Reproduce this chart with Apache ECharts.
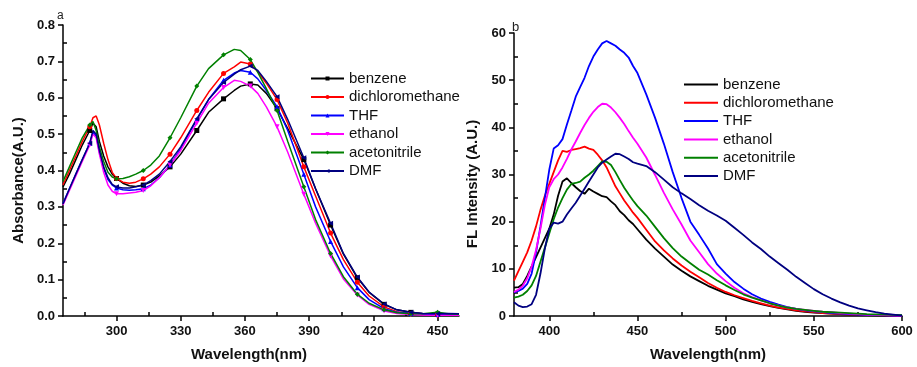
<!DOCTYPE html>
<html>
<head>
<meta charset="utf-8">
<script src="https://cdn.jsdelivr.net/npm/echarts@6/dist/echarts.min.js"></script>
<style>html,body{margin:0;padding:0;background:#fff}#c{width:917px;height:367px}</style>
</head>
<body>
<div id="c"></div>
<script>
// ---------- Panel a: absorbance ----------
const absWl = [275,278,281,284,287.5,289,290.5,292,294,296,298,300,303,306,309,312.5,316,320,325,330,337.5,343,350,355,358,362.5,366,370,375,380,387.5,393,400,406,412.5,418,425,431,437.5,443,450,455,460];
const absMarkerWl = [287.5,300,312.5,325,337.5,350,362.5,375,387.5,400,412.5,425,437.5,450];
const absBenzene = [0.355,0.39,0.43,0.47,0.51,0.53,0.52,0.48,0.44,0.41,0.39,0.378,0.365,0.358,0.356,0.36,0.368,0.385,0.41,0.445,0.51,0.56,0.597,0.62,0.632,0.638,0.635,0.612,0.57,0.515,0.43,0.35,0.25,0.17,0.105,0.065,0.032,0.017,0.01,0.007,0.005,0.004,0.004];
const absDCM = [0.36,0.40,0.44,0.48,0.52,0.545,0.55,0.525,0.475,0.43,0.395,0.378,0.368,0.365,0.368,0.377,0.39,0.41,0.445,0.49,0.565,0.615,0.667,0.685,0.698,0.693,0.672,0.64,0.595,0.53,0.41,0.33,0.228,0.155,0.093,0.055,0.025,0.012,0.006,0.004,0.003,0.002,0.002];
const absTHF = [0.31,0.35,0.39,0.43,0.475,0.505,0.495,0.45,0.405,0.375,0.36,0.352,0.347,0.346,0.347,0.35,0.36,0.38,0.415,0.46,0.54,0.595,0.648,0.668,0.675,0.67,0.652,0.62,0.575,0.51,0.39,0.30,0.205,0.135,0.078,0.045,0.02,0.01,0.007,0.005,0.004,0.003,0.003];
const absEthanol = [0.305,0.345,0.385,0.425,0.47,0.50,0.49,0.445,0.395,0.36,0.343,0.336,0.336,0.338,0.34,0.345,0.358,0.38,0.415,0.455,0.53,0.585,0.628,0.648,0.645,0.632,0.612,0.575,0.52,0.45,0.335,0.255,0.165,0.102,0.058,0.032,0.014,0.007,0.004,0.003,0.002,0.002,0.002];
const absMeCN = [0.37,0.41,0.45,0.49,0.525,0.535,0.51,0.465,0.425,0.395,0.382,0.377,0.378,0.383,0.39,0.40,0.415,0.44,0.49,0.545,0.632,0.68,0.718,0.733,0.73,0.705,0.67,0.625,0.565,0.48,0.355,0.265,0.172,0.108,0.06,0.035,0.017,0.009,0.006,0.006,0.01,0.006,0.005];
const absDMF = [0.308,0.35,0.39,0.43,0.475,0.51,0.50,0.455,0.41,0.38,0.362,0.355,0.352,0.352,0.355,0.36,0.372,0.39,0.425,0.465,0.542,0.595,0.642,0.665,0.677,0.687,0.675,0.645,0.603,0.54,0.435,0.35,0.255,0.172,0.107,0.066,0.033,0.017,0.01,0.007,0.006,0.007,0.006];
const absXTicks = [300,330,360,390,420,450];
const absXMinor = [285,315,345,375,405,435];
const absYMinor = [0.05,0.15,0.25,0.35,0.45,0.55,0.65,0.75];

// ---------- Panel b: fluorescence ----------
const flWl = [380,382.5,385,387.5,390,392.5,395,397.5,400,402.5,405,407.5,410,412.5,415,417.5,420,422.5,425,427.5,430,432.5,435,437.5,440,442.5,445,447.5,450,455,460,465,470,475,480,485,490,495,500,505,510,515,520,525,530,535,540,545,550,555,560,565,570,575,580,585,590,595,600];
const flBenzene = [6.0,6.1,6.8,8.5,10.5,12.5,14.5,16.5,18.5,21.5,25.5,28.5,29.2,28.2,27.3,26.5,25.9,27.0,26.4,25.9,25.4,25.2,24.3,23.5,22.2,21.4,20.3,19.5,18.4,16.2,14.3,12.6,10.9,9.6,8.4,7.4,6.4,5.6,4.8,4.2,3.5,3.0,2.5,2.1,1.7,1.4,1.1,0.9,0.7,0.6,0.5,0.4,0.3,0.25,0.2,0.15,0.1,0.1,0.1];
const flDCM = [7.5,9.5,11.5,13.5,16.0,19.0,22.5,25.5,28.0,30.5,33.0,35.0,34.8,35.2,35.4,35.6,35.9,35.5,35.2,34.2,33.0,31.5,29.5,27.5,26.0,24.5,23.2,21.9,20.8,18.3,15.8,13.9,12.2,10.7,9.4,8.2,7.0,6.0,5.1,4.4,3.8,3.2,2.7,2.2,1.8,1.5,1.2,1.0,0.8,0.6,0.5,0.4,0.35,0.3,0.25,0.2,0.15,0.1,0.1];
const flTHF = [5.0,5.3,5.8,6.8,9.0,13.5,19.0,25.0,31.0,35.5,36.2,37.5,40.6,43.5,46.5,48.5,50.5,53.0,55.0,56.5,57.8,58.3,57.8,57.3,56.5,55.8,54.8,53.0,51.5,47.0,42.0,36.5,30.5,25.0,20.0,17.2,14.3,11.0,9.0,7.2,5.8,4.6,3.7,3.0,2.4,1.9,1.5,1.2,1.0,0.8,0.6,0.5,0.4,0.3,0.25,0.2,0.15,0.1,0.1];
const flEthanol = [5.1,5.6,6.4,8.0,10.5,14.0,18.5,23.5,27.3,29.0,30.0,31.5,33.3,35.3,37.0,38.8,40.5,42.0,43.3,44.3,45.0,44.9,44.2,43.2,42.0,40.7,39.2,37.8,36.5,33.6,29.9,26.1,22.6,19.4,16.0,13.5,11.0,9.0,7.4,6.0,4.8,4.0,3.3,2.7,2.2,1.8,1.5,1.3,1.1,0.9,0.8,0.6,0.5,0.4,0.3,0.25,0.2,0.15,0.1];
const flMeCN = [3.9,4.1,4.5,5.3,6.5,8.5,11.5,14.5,17.5,20.5,23.0,25.0,26.8,28.0,28.2,28.5,29.3,30.0,30.8,31.8,32.8,32.7,32.0,30.5,28.8,27.2,25.8,24.5,23.3,21.3,18.9,16.5,14.4,12.6,11.2,9.8,8.8,7.6,6.5,5.5,4.6,3.9,3.3,2.7,2.2,1.8,1.5,1.3,1.1,0.9,0.8,0.7,0.6,0.5,0.4,0.35,0.3,0.25,0.2];
const flDMF = [2.9,2.2,1.9,2.0,2.5,4.5,9.0,14.3,18.5,19.8,19.6,20.0,21.5,22.8,24.0,25.5,27.0,28.5,30.0,31.5,32.5,33.2,33.8,34.4,34.3,33.8,33.3,32.6,32.3,31.8,30.5,28.9,27.3,26.0,24.8,23.5,22.3,21.3,20.2,18.7,17.2,15.6,14.2,12.6,11.2,9.8,8.3,7.0,5.7,4.6,3.7,2.9,2.2,1.6,1.2,0.8,0.5,0.3,0.1];
const flXTicks = [400,450,500,550,600];
const flXMinor = [425,475,525,575];
const flYMinor = [5,15,25,35,45,55];

const solvents = ['benzene','dichloromethane','THF','ethanol','acetonitrile','DMF'];
const colors = ['#000000','#ff0000','#0000ff','#ff00ff','#008000','#000080'];
const symbols = ['rect','circle','triangle','triangle','diamond','triangle'];
const symbolRot = [0,0,0,180,0,90];
const absSets = [absBenzene,absDCM,absTHF,absEthanol,absMeCN,absDMF];
const flSets = [flBenzene,flDCM,flTHF,flEthanol,flMeCN,flDMF];

const FONT = 'Liberation Sans, Arial, sans-serif';
const axisLine = {show:true, onZero:false, lineStyle:{color:'#000', width:1.5}};
const labelStyle = {fontFamily:FONT, fontWeight:'bold', fontSize:13, color:'#111'};
const nameStyle = {fontFamily:FONT, fontWeight:'bold', fontSize:15, color:'#111'};

function minorAxis(gridIndex, min, max, values, isY){
  return {type:'value', gridIndex, min, max, position: isY?'left':'bottom',
    axisLine:{show:false}, splitLine:{show:false}, axisLabel:{show:false},
    axisTick:{show:true, inside:true, length:4, customValues:values, lineStyle:{color:'#000', width:1.5}}};
}

const markerSet = new Set(absMarkerWl);
const series = [];
solvents.forEach((s,i)=>{
  series.push({
    type:'line', name:s, xAxisIndex:0, yAxisIndex:0,
    data: absWl.map((x,j)=>[x, absSets[i][j]]),
    symbol: symbols[i], symbolRotate: symbolRot[i],
    symbolSize: function(v){ return (v && markerSet.has(v[0])) ? 5 : 0; },
    showSymbol:true, showAllSymbol:true,
    lineStyle:{color:colors[i], width:1.5}, itemStyle:{color:colors[i]},
    emphasis:{disabled:true}, silent:true
  });
});
solvents.forEach((s,i)=>{
  series.push({
    type:'line', name:'fl-'+s, xAxisIndex:2, yAxisIndex:2,
    data: flWl.map((x,j)=>[x, flSets[i][j]]),
    symbol:'none',
    lineStyle:{color:colors[i], width:1.8}, itemStyle:{color:colors[i]},
    emphasis:{disabled:true}, silent:true
  });
});

const chart = echarts.init(document.getElementById('c'), null, {renderer:'canvas'});
chart.setOption({
  animation:false,
  backgroundColor:'#fff',
  grid:[
    {left:63, top:25, width:396, height:295},
    {left:514, top:33, width:388, height:289}
  ],
  xAxis:[
    {type:'value', gridIndex:0, min:275, max:460, axisLine,
      axisTick:{show:true, length:5, customValues:absXTicks, lineStyle:{color:'#000', width:1.5}},
      axisLabel:Object.assign({customValues:absXTicks, margin:9}, labelStyle),
      splitLine:{show:false},
      name:'Wavelength(nm)', nameLocation:'middle', nameGap:31,
      nameTextStyle:Object.assign({padding:[0,24,0,0]}, nameStyle)},
    minorAxis(0,275,460,absXMinor,false),
    {type:'value', gridIndex:1, min:380, max:600, axisLine,
      axisTick:{show:true, length:5, customValues:flXTicks, lineStyle:{color:'#000', width:1.5}},
      axisLabel:Object.assign({customValues:flXTicks, margin:9}, labelStyle),
      splitLine:{show:false},
      name:'Wavelength(nm)', nameLocation:'middle', nameGap:31,
      nameTextStyle:Object.assign({}, nameStyle)},
    minorAxis(1,380,600,flXMinor,false)
  ],
  yAxis:[
    {type:'value', gridIndex:0, min:0, max:0.8, interval:0.1, axisLine,
      axisTick:{show:true, length:5, lineStyle:{color:'#000', width:1.5}},
      axisLabel:Object.assign({margin:8, formatter:v=>v.toFixed(1)}, labelStyle),
      splitLine:{show:false},
      name:'Absorbance(A.U.)', nameLocation:'middle', nameGap:37,
      nameTextStyle:Object.assign({padding:[0,20,0,0]}, nameStyle)},
    minorAxis(0,0,0.8,absYMinor,true),
    {type:'value', gridIndex:1, min:0, max:60, interval:10, axisLine,
      axisTick:{show:true, length:5, lineStyle:{color:'#000', width:1.5}},
      axisLabel:Object.assign({margin:8}, labelStyle),
      splitLine:{show:false},
      name:'FL Intensity (A.U.)', nameLocation:'middle', nameGap:34,
      nameTextStyle:Object.assign({padding:[0,19,0,0]}, nameStyle)},
    minorAxis(1,0,60,flYMinor,true)
  ],
  legend:[
    {orient:'vertical', left:310, top:70.5, itemWidth:33, itemHeight:5, itemGap:2.5, padding:0,
      data:solvents, textStyle:{fontFamily:FONT, fontSize:15, color:'#111', lineHeight:16}},
    {orient:'vertical', left:684, top:76.5, itemWidth:34, itemHeight:2, itemGap:2.3, padding:0,
      icon:'rect',
      data:solvents.map(s=>'fl-'+s), formatter:n=>n.replace('fl-',''),
      textStyle:{fontFamily:FONT, fontSize:15, color:'#111', lineHeight:16}}
  ],
  graphic:[
    {type:'text', left:57, top:10, style:{text:'a', font:'12px '+FONT, fill:'#222'}},
    {type:'text', left:512, top:21, style:{text:'b', font:'13px '+FONT, fill:'#222'}}
  ],
  series
});
</script>
</body>
</html>
